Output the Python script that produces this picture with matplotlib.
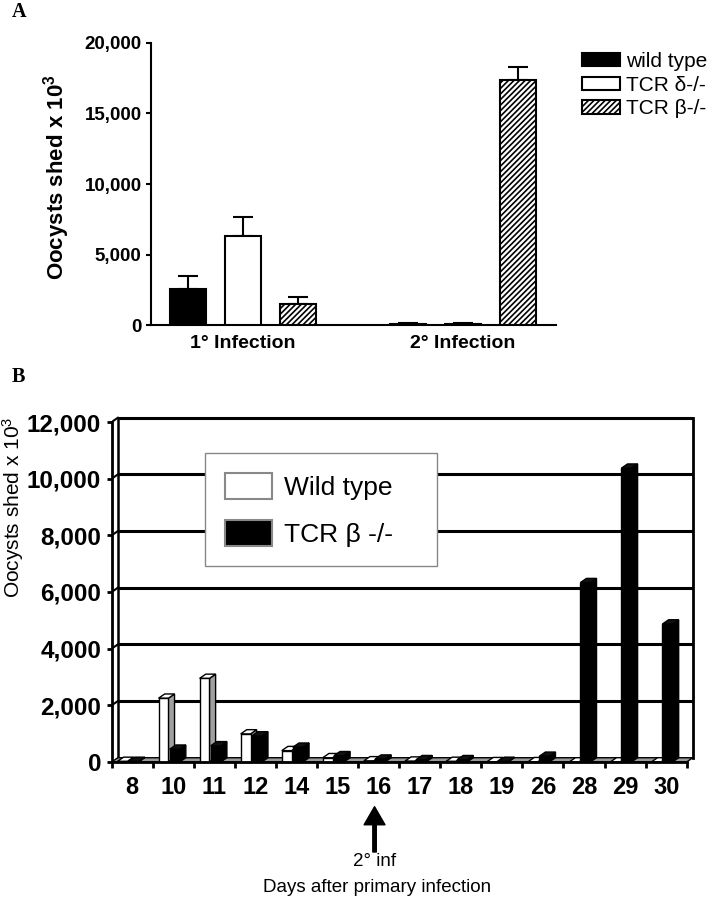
import matplotlib
matplotlib.use('Agg')
import matplotlib.pyplot as plt
import matplotlib.patches as mpatches
import numpy as np

plt.rcParams['font.family'] = ['Liberation Sans', 'DejaVu Sans']
plt.rcParams['hatch.linewidth'] = 1.2
plt.rcParams['mathtext.fontset'] = 'custom'
plt.rcParams['mathtext.rm'] = 'Liberation Sans'
plt.rcParams['mathtext.bf'] = 'Liberation Sans:bold'
plt.rcParams['mathtext.it'] = 'Liberation Sans:italic'

# ---------------- Panel A data ----------------
groups_a = ['1° Infection', '2° Infection']
series_a = ['wild type', 'TCR δ-/-', 'TCR β-/-']
wt_mean = [2570, 120]
wt_err = [940, 50]
tcrd_mean = [6340, 90]
tcrd_err = [1320, 40]
tcrb_mean = [1530, 17360]
tcrb_err = [450, 940]
yticks_a = [0, 5000, 10000, 15000, 20000]

# ---------------- Panel B data ----------------
days = ['8', '10', '11', '12', '14', '15', '16', '17', '18', '19', '26', '28', '29', '30']
wild_b = [20, 2250, 2950, 990, 400, 150, 40, 30, 20, 10, 10, 0, 0, 0]
tcrb_b = [20, 450, 570, 920, 520, 220, 100, 80, 80, 20, 200, 6330, 10370, 4870]
series_b = ['Wild type', 'TCR β -/-']
yticks_b = [0, 2000, 4000, 6000, 8000, 10000, 12000]

W, H = 711, 899
fig = plt.figure(figsize=(W / 100, H / 100), dpi=100)


def fx(px):
    return px / W


def fy(py):
    return 1 - py / H


# ================= Panel A =================
axA = fig.add_axes([fx(150.7), fy(325.3), (556 - 150.7) / W, 282.6 / H])
xa = np.arange(len(groups_a))
off, bw = 0.249, 0.166
styles = [dict(color='black', edgecolor='black'),
          dict(color='white', edgecolor='black'),
          dict(color='white', edgecolor='black', hatch='//////')]
handles_a = []
for k, (m, e, st) in enumerate(zip([wt_mean, tcrd_mean, tcrb_mean],
                                   [wt_err, tcrd_err, tcrb_err], styles)):
    pos = xa + (k - 1) * off
    b = axA.bar(pos, m, bw, linewidth=1.5, label=series_a[k], zorder=3, **st)
    axA.errorbar(pos, m, yerr=[np.zeros(len(e)), e], fmt='none', ecolor='black',
                 elinewidth=1.5, capsize=7.5, capthick=1.5, zorder=2)
    handles_a.append(b)

axA.set_xlim(-0.4195, 1.4227)
axA.set_ylim(0, 20000)
for s in ['top', 'right']:
    axA.spines[s].set_visible(False)
for s in ['left', 'bottom']:
    axA.spines[s].set_linewidth(1.5)
axA.set_yticks(yticks_a, labels=[f'{v:,}' for v in yticks_a], fontsize=13.5, fontweight='bold')
axA.tick_params(axis='y', direction='out', length=3.6, width=1.5, pad=3)
axA.set_xticks(xa, labels=groups_a, fontsize=14, fontweight='bold')
axA.tick_params(axis='x', length=0, pad=7)

fig.text(fx(56.7), fy(177), r'Oocysts shed x 10$^{\mathbf{3}}$', rotation=90, ha='center',
         va='center', fontsize=16, fontweight='bold')

fig.legend(handles_a, series_a, loc='upper left', bbox_to_anchor=(fx(581.7), fy(52)),
           frameon=False, borderpad=0, borderaxespad=0, fontsize=15,
           handlelength=1.83, handleheight=0.61, handletextpad=0.32, labelspacing=0.22)

fig.text(fx(11.7), fy(12), 'A', family=['Liberation Serif', 'DejaVu Serif'],
         fontweight='bold', fontsize=14.5, ha='left', va='center')
fig.text(fx(11.7), fy(377), 'B', family=['Liberation Serif', 'DejaVu Serif'],
         fontweight='bold', fontsize=14.5, ha='left', va='center')

# ================= Panel B =================
pxu = 41.07
axB = fig.add_axes([fx(111.7), fy(764.8), 14.25 * pxu / W, 12400 * 0.02833 / H])
n = len(days)
axB.set_xlim(0, 14.25)
axB.set_ylim(-100, 12300)
dx, dy = 0.15, 150

for s in ['top', 'right']:
    axB.spines[s].set_visible(False)
axB.spines['left'].set_bounds(0, 12000)
axB.spines['left'].set_position(('data', 0))
axB.spines['bottom'].set_bounds(0, n)
axB.spines['bottom'].set_position(('data', 0))
for s in ['left', 'bottom']:
    axB.spines[s].set_linewidth(2)
    axB.spines[s].set_zorder(6)

# back wall, gridlines, side wall
for g in yticks_b[1:]:
    axB.plot([dx, n + dx], [g + dy, g + dy], color='black', lw=2.2, zorder=0.5, solid_capstyle='butt')
    axB.plot([0, dx], [g, g + dy], color='black', lw=1.5, zorder=0.5)
axB.plot([dx, dx], [dy, 12000 + dy], color='black', lw=1.8, zorder=0.5)
axB.plot([n + dx, n + dx], [dy, 12000 + dy], color='black', lw=2, zorder=0.5)
# floor
axB.fill([0, n, n + dx, dx], [0, 0, dy, dy], facecolor='#9a9a9a', edgecolor='black', lw=1, zorder=1)

xb = np.arange(n)
wl, ww = 0.14, 0.24
bl, bwid = 0.41, 0.245


def draw_3d(xs, left, width, vals, front, side, top, z):
    axB.bar(xs + left, vals, width=width, align='edge', color=front, edgecolor='black',
            linewidth=1, zorder=z + 0.2)
    for xi, v in zip(xs, vals):
        x0 = xi + left
        x1 = x0 + width
        axB.fill([x1, x1 + dx, x1 + dx, x1], [0, dy, v + dy, v], facecolor=side,
                 edgecolor='black', lw=1, zorder=z)
        axB.fill([x0, x1, x1 + dx, x0 + dx], [v, v, v + dy, v + dy], facecolor=top,
                 edgecolor='black', lw=1, zorder=z + 0.1)


for i in range(n):
    draw_3d(xb[i:i + 1], wl, ww, wild_b[i:i + 1], 'white', '#a0a0a0', 'white', 3 + i * 0.01)
    draw_3d(xb[i:i + 1], bl, bwid, tcrb_b[i:i + 1], 'black', 'black', '#111111', 4 + i * 0.01)

axB.set_yticks(yticks_b, labels=[f'{v:,}' for v in yticks_b], fontsize=17.5, fontweight='bold')
axB.tick_params(axis='y', direction='out', length=3.6, width=2, pad=4)
axB.set_xticks(np.arange(n + 1))
axB.tick_params(axis='x', which='major', labelbottom=False, length=4.3, width=2, direction='out')
axB.set_xticks(xb + 0.5, labels=days, minor=True, fontsize=17, fontweight='bold')
axB.tick_params(axis='x', which='minor', length=0, pad=10)

fig.text(fx(13.5), fy(507), r'Oocysts shed x 10$^{3}$', rotation=90, ha='center', va='center',
         fontsize=15)

handles_b = [mpatches.Patch(facecolor='white', edgecolor='#888888', linewidth=1.5),
             mpatches.Patch(facecolor='black', edgecolor='#888888', linewidth=1.5)]
legB = fig.legend(handles_b, series_b, loc='upper left',
                  bbox_to_anchor=(fx(205), fy(577), 232 / W, 124 / H), mode='expand',
                  fontsize=19, handlelength=1.8, handleheight=1.15, handletextpad=0.45,
                  labelspacing=0.75, borderpad=0.75, borderaxespad=0, fancybox=False,
                  edgecolor='#888888', framealpha=1)
legB.get_frame().set_linewidth(1)

# arrow marking secondary infection
axB.annotate('', xy=(6.4, fy(806.7)), xytext=(6.4, fy(852)),
             xycoords=('data', 'figure fraction'), textcoords=('data', 'figure fraction'),
             arrowprops=dict(facecolor='black', edgecolor='black', width=2.5,
                             headwidth=15, headlength=13, shrink=0), annotation_clip=False)
fig.text(fx(375), fy(861.7), '2° inf', ha='center', va='center', fontsize=13.5)
fig.text(fx(377), fy(888), 'Days after primary infection', ha='center', va='center', fontsize=13.5)

fig.savefig('out.png', dpi=100)
